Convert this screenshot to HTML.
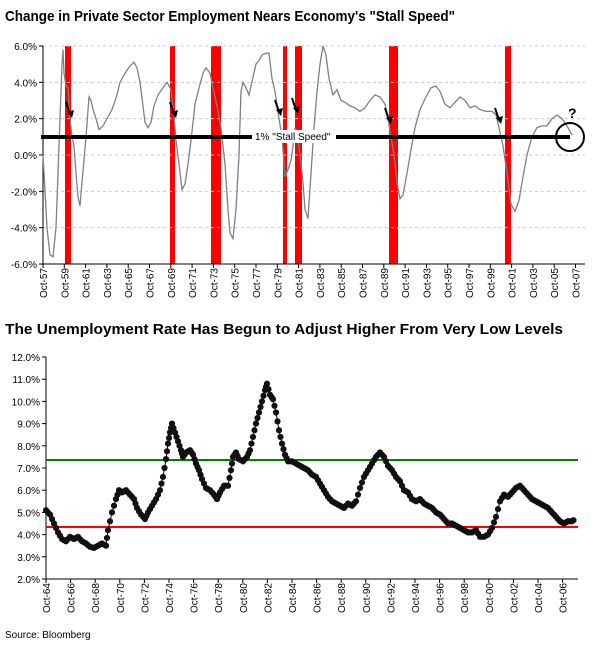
<!DOCTYPE html>
<html><head><meta charset="utf-8"><style>
body{margin:0;background:#fff;font-family:"Liberation Sans",Arial,sans-serif}
svg{display:block}
</style></head><body>
<svg id="s" width="600" height="651" viewBox="0 0 600 651" font-family="Liberation Sans, Arial, sans-serif">
<text x="5" y="21" font-size="15" font-weight="bold" fill="#000" textLength="450" lengthAdjust="spacingAndGlyphs">Change in Private Sector Employment Nears Economy's "Stall Speed"</text>
<text x="5" y="334" font-size="15" font-weight="bold" fill="#000" textLength="558" lengthAdjust="spacingAndGlyphs">The Unemployment Rate Has Begun to Adjust Higher From Very Low Levels</text>
<text x="5" y="638" font-size="10" fill="#000">Source: Bloomberg</text>
<g id="c1"></g><g id="c2"></g>
</svg>
<script>
var NS="http://www.w3.org/2000/svg",svg=document.getElementById('s');
function el(t,a,p,txt){var e=document.createElementNS(NS,t);for(var k in a)e.setAttribute(k,a[k]);if(txt!=null)e.textContent=txt;(p||svg).appendChild(e);return e;}
var g1=document.getElementById('c1'),g2=document.getElementById('c2');
function y1(v){return 155-v*18.17;}
[[65,71],[170,175],[211,221],[283,287],[295,302],[389,398],[505,511]].forEach(function(r){el('rect',{x:r[0],y:46,width:r[1]-r[0],height:218,fill:'#ff0000'},g1);});
for(var v=-6;v<=6;v+=2){var y=y1(v);if(v>-6)el('line',{x1:43,x2:585,y1:y,y2:y,stroke:'#d8c0d8','stroke-dasharray':'3,3','stroke-width':1},g1);
el('line',{x1:39,x2:43,y1:y,y2:y,stroke:'#000'},g1);
el('text',{x:37,y:y+4,'font-size':10,'text-anchor':'end'},g1,v.toFixed(1)+'%');}
el('line',{x1:43,x2:43,y1:46,y2:264,stroke:'#000'},g1);
el('line',{x1:43,x2:585,y1:264,y2:264,stroke:'#000'},g1);
for(var i=0;i<26;i++){var x=43+i*21.3,yr=(57+2*i)%100;el('line',{x1:x,x2:x,y1:264,y2:268,stroke:'#000'},g1);
el('text',{x:0,y:0,'font-size':10,'text-anchor':'end',transform:'translate('+(x+4)+',268) rotate(-90)'},g1,'Oct-'+(yr<10?'0':'')+yr);}
var d1=[43,0,47,-4,50,-5.5,53,-5.6,56,-4,58,-1,60,2,62,5,63,5.8,64,4.5,66,3.8,68,3.7,70,2,72,1,74,0.5,76,-1,78,-2.3,80,-2.8,82,-1.5,86,1,89,3.2,91,3,93,2.5,96,2,99,1.4,103,1.6,107,2,112,2.5,117,3.3,120,4,125,4.5,130,4.9,134,5.1,137,4.8,140,4,143,2.7,145,1.8,148,1.5,151,1.8,154,2.7,158,3.3,163,3.7,167,4,171,3.6,174,2.2,176,0.8,179,-0.5,182,-1.9,185,-1.6,188,-0.5,191,0.8,195,2.8,199,3.7,203,4.5,206,4.8,210,4.5,213,3.7,217,2.7,221,1.5,225,-0.5,228,-3,230,-4.3,233,-4.6,236,-3,239,0,241,3.5,243,4,246,3.7,249,3.3,253,4.3,256,5,259,5.2,262,5.5,266,5.6,269,5.6,272,4.2,275,3.5,279,2,282,1,285,-1.2,288,-0.8,291,-0.3,293,0.5,295,1.5,297,1.2,300,0,303,-1.5,305,-3,308,-3.5,311,-1,314,1.5,317,3.5,320,5,323,6,326,5.5,329,4.2,333,3.3,337,3.6,341,3,345,2.9,350,2.7,355,2.6,360,2.4,365,2.6,370,3,375,3.3,380,3.2,385,2.8,388,2,391,1,394,0,397,-1.5,400,-2.4,403,-2.2,407,-1,411,0.3,415,1.5,420,2.5,426,3.2,431,3.7,436,3.8,440,3.5,445,2.8,450,2.6,455,2.9,460,3.2,465,3,470,2.6,475,2.7,480,2.5,486,2.4,492,2.4,496,2.2,499,1.5,503,0.5,507,-1,511,-2.7,515,-3.1,519,-2.5,523,-1.2,527,0,532,1,537,1.5,542,1.6,547,1.6,552,2,557,2.2,562,2,567,1.6,572,1.1];
var p=[];for(var i=0;i<d1.length;i+=2)p.push(d1[i]+','+y1(d1[i+1]).toFixed(1));
el('polyline',{points:p.join(' '),fill:'none',stroke:'#808080','stroke-width':1.3},g1);
el('line',{x1:41,x2:570,y1:137,y2:137,stroke:'#000','stroke-width':4},g1);
el('rect',{x:252,y:130,width:84,height:13,fill:'#fff'},g1);
el('text',{x:255,y:140,'font-size':10,fill:'#000'},g1,'1% "Stall Speed"');
el('circle',{cx:570,cy:137,r:14,fill:'none',stroke:'#000','stroke-width':2},g1);
el('text',{x:568,y:118,'font-size':14,'font-weight':'bold'},g1,'?');
[[68,112],[172,112],[277,110],[294,108],[387,118],[497,118]].forEach(function(a){var x=a[0],y=a[1];
el('line',{x1:x-2,y1:y-10,x2:x+2,y2:y+2,stroke:'#000','stroke-width':2},g1);
el('polygon',{points:(x-1)+','+(y)+' '+(x+6)+','+(y-2)+' '+(x+4)+','+(y+6),fill:'#000'},g1);});
function y2(v){return 357+(12-v)*22.2;}
for(var v=2;v<=12;v++){var y=y2(v);el('line',{x1:42,x2:46,y1:y,y2:y,stroke:'#000'},g2);
el('text',{x:40,y:y+4,'font-size':10,'text-anchor':'end'},g2,v.toFixed(1)+'%');}
el('line',{x1:46,x2:46,y1:357,y2:579,stroke:'#000'},g2);
el('line',{x1:46,x2:578,y1:579,y2:579,stroke:'#000'},g2);
for(var i=0;i<22;i++){var x=46+i*24.6,yr=(64+2*i)%100;el('line',{x1:x,x2:x,y1:579,y2:583,stroke:'#000'},g2);
el('text',{x:0,y:0,'font-size':10,'text-anchor':'end',transform:'translate('+(x+4)+',583) rotate(-90)'},g2,'Oct-'+(yr<10?'0':'')+yr);}
el('line',{x1:46,x2:578,y1:460,y2:460,stroke:'#008000','stroke-width':2},g2);
el('line',{x1:46,x2:578,y1:527,y2:527,stroke:'#ff0000','stroke-width':2},g2);
var d2=[46,5.1,50,4.9,54,4.5,58,4.1,62,3.8,66,3.7,70,3.9,74,3.8,78,3.9,82,3.7,86,3.6,90,3.45,94,3.4,98,3.5,102,3.6,106,3.5,108,4.2,112,5,116,5.6,119,6,122,5.9,126,6,130,5.8,134,5.6,137,5.2,141,4.9,145,4.7,148,5,152,5.3,156,5.6,160,6,163,6.6,166,7.4,168,8.1,170,8.6,172,9,175,8.6,178,8.2,181,7.8,183,7.5,186,7.7,190,7.8,193,7.6,196,7.2,199,6.9,202,6.5,206,6.1,210,6,214,5.8,217,5.6,220,5.9,224,6.2,228,6.2,231,6.9,233,7.5,236,7.7,239,7.4,243,7.3,247,7.5,250,7.8,253,8.4,256,9,259,9.5,262,10,265,10.5,267,10.8,270,10.3,273,10.1,276,9.5,279,8.7,282,8.1,285,7.6,288,7.3,292,7.3,296,7.2,300,7.1,304,7,308,6.9,312,6.7,316,6.6,320,6.3,324,6,328,5.7,332,5.5,336,5.4,340,5.3,344,5.2,348,5.4,352,5.3,356,5.5,360,6.1,364,6.6,368,6.9,372,7.2,376,7.5,380,7.7,384,7.5,388,7.1,392,6.9,396,6.6,400,6.4,404,6,408,5.9,412,5.6,416,5.5,420,5.6,424,5.4,428,5.3,432,5.2,436,5,440,4.9,444,4.7,448,4.5,452,4.5,456,4.4,460,4.3,464,4.2,468,4.1,472,4.1,476,4.2,480,3.9,484,3.9,488,4,492,4.3,496,4.8,500,5.5,504,5.8,508,5.7,512,5.9,516,6.1,520,6.2,524,6,528,5.8,532,5.6,536,5.5,540,5.4,544,5.3,548,5.2,552,5,556,4.8,560,4.6,564,4.5,568,4.6,572,4.6,575,4.7];
p=[];for(var i=0;i<d2.length;i+=2)p.push(d2[i]+','+y2(d2[i+1]).toFixed(1));
el('polyline',{points:p.join(' '),fill:'none',stroke:'#000','stroke-width':1},g2);
for(var i=0;i<d2.length-2;i+=2){var xa=d2[i],ya=y2(d2[i+1]),xb=d2[i+2],yb=y2(d2[i+3]);
for(var t=0;t<1;t+=0.5)el('circle',{cx:xa+(xb-xa)*t,cy:ya+(yb-ya)*t,r:3.1,fill:'#111'},g2);}
</script>
</body></html>
